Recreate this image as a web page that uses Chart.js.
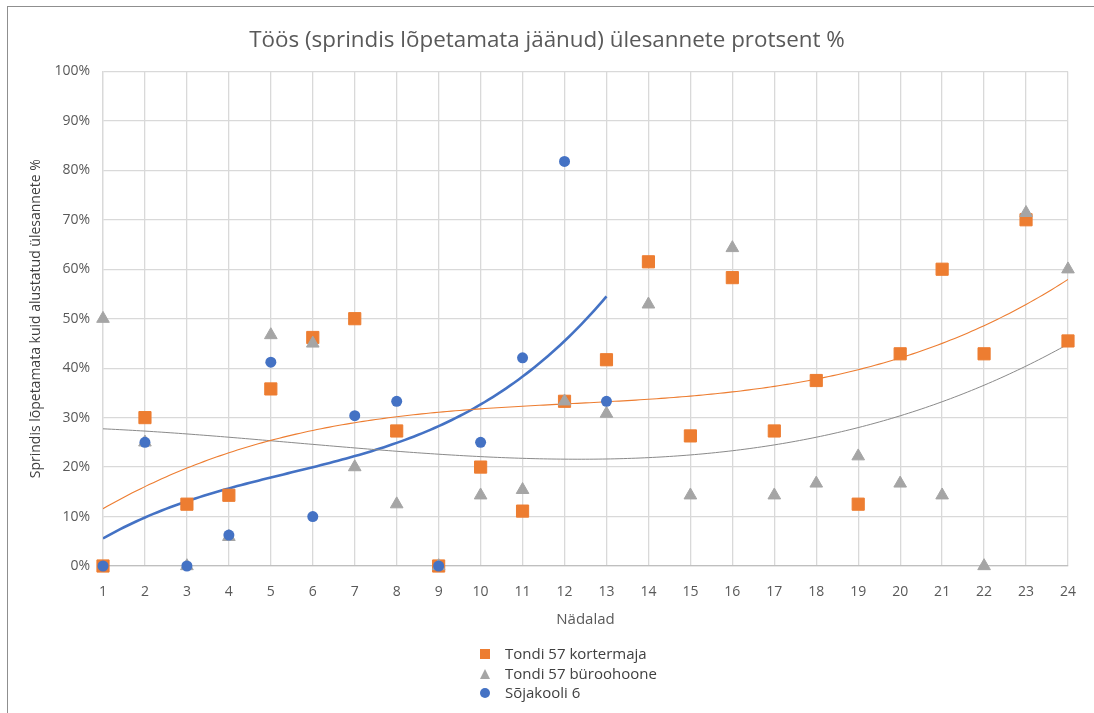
<!DOCTYPE html>
<html>
<head>
<meta charset="utf-8">
<script src="https://cdn.jsdelivr.net/npm/chart.js@4/dist/chart.umd.min.js"></script>
<style>
  html, body { margin: 0; padding: 0; background: #fff; }
  #wrap { position: relative; width: 1094px; height: 713px; overflow: hidden; }
  #frame { position: absolute; left: 7px; top: 6px; width: 1200px; height: 800px; border-top: 1px solid #8f8f8f; border-left: 1px solid #8f8f8f; pointer-events: none; }
  canvas { position: absolute; left: 0; top: 0; }
  #legend { position: absolute; left: 478px; top: 644px; font-family: "Open Sans", sans-serif; font-size: 15px; color: #404040; }
  #legend .row { position: relative; height: 19.5px; line-height: 19.5px; padding-left: 27px; white-space: nowrap; }
  #legend .mk { position: absolute; left: 2px; }
  .sq { top: 5px; width: 10px; height: 10px; background: #ED7D31; }
  .tri { top: 5px; width: 0; height: 0; border-left: 5.5px solid transparent; border-right: 5.5px solid transparent; border-bottom: 10px solid #A5A5A5; left: 1.5px !important; }
  .ci { top: 5px; width: 10px; height: 10px; border-radius: 50%; background: #4472C4; }
</style>
</head>
<body>
<div id="wrap">
  <canvas id="c" width="1094" height="713"></canvas>
  <div id="frame"></div>
  <div id="legend"></div>
</div>
<script>
// ---- Data ----
const weeks = [1,2,3,4,5,6,7,8,9,10,11,12,13,14,15,16,17,18,19,20,21,22,23,24];
const yTicks = [0,10,20,30,40,50,60,70,80,90,100];
const seriesNames = ["Tondi 57 kortermaja", "Tondi 57 büroohoone", "Sõjakooli 6"];
const kortermaja = [0,30,12.5,14.3,35.8,46.2,50,27.3,0,20,11.1,33.3,41.7,61.5,26.3,58.3,27.3,37.5,12.5,42.9,60,42.9,70,45.5];
const buroohoone = [50,25,0,5.9,46.7,45,20,12.5,0,14.3,15.4,33.3,30.8,52.9,14.3,64.3,14.3,16.7,22.2,16.7,14.3,0,71.4,60];
const sojakooliWeeks = [1,2,3,4,5,6,7,8,9,10,11,12,13];
const sojakooli = [0,25,0,6.25,41.2,10,30.4,33.3,0,25,42.1,81.8,33.3];

// ---- Polynomial (order 3) trendline, least squares ----
function polyFit(xs, ys, order) {
  const n = order + 1;
  const A = Array.from({length: n}, () => new Array(n + 1).fill(0));
  for (let k = 0; k < xs.length; k++) {
    for (let i = 0; i < n; i++) {
      for (let j = 0; j < n; j++) A[i][j] += Math.pow(xs[k], i + j);
      A[i][n] += ys[k] * Math.pow(xs[k], i);
    }
  }
  for (let i = 0; i < n; i++) {
    let p = i;
    for (let r = i + 1; r < n; r++) if (Math.abs(A[r][i]) > Math.abs(A[p][i])) p = r;
    [A[i], A[p]] = [A[p], A[i]];
    for (let r = 0; r < n; r++) {
      if (r === i) continue;
      const f = A[r][i] / A[i][i];
      for (let c = i; c <= n; c++) A[r][c] -= f * A[i][c];
    }
  }
  return A.map((row, i) => row[n] / row[i]);
}
function trendPoints(xs, ys) {
  const c = polyFit(xs, ys, 3);
  const pts = [];
  const x0 = xs[0], x1 = xs[xs.length - 1];
  for (let x = x0; x <= x1 + 1e-9; x += 0.1) {
    pts.push({x: x, y: c[0] + c[1]*x + c[2]*x*x + c[3]*x*x*x});
  }
  return pts;
}
const toPts = (xs, ys) => xs.map((x, i) => ({x: x, y: ys[i]}));

const C_OR = '#ED7D31', C_GR = '#A5A5A5', C_BL = '#4472C4';
const tickFont = {family: "'Open Sans', sans-serif", size: 14};

new Chart(document.getElementById('c'), {
  type: 'scatter',
  data: {
    datasets: [
      {label: seriesNames[0], data: toPts(weeks, kortermaja), pointStyle: 'rect', pointRadius: 8.6, pointHoverRadius: 8.6,
       backgroundColor: C_OR, borderColor: C_OR, borderWidth: 1, order: 3, clip: false},
      {label: seriesNames[1], data: toPts(weeks, buroohoone), pointStyle: 'triangle', pointRadius: 7.3, pointHoverRadius: 7.3,
       backgroundColor: C_GR, borderColor: C_GR, borderWidth: 1, order: 2, clip: false},
      {label: seriesNames[2], data: toPts(sojakooliWeeks, sojakooli), pointStyle: 'circle', pointRadius: 5.5, pointHoverRadius: 5.5,
       backgroundColor: C_BL, borderColor: C_BL, borderWidth: 0, order: 1, clip: false},
      {label: 'trend1', type: 'line', data: trendPoints(weeks, kortermaja), borderColor: C_OR, borderWidth: 1.1,
       pointRadius: 0, fill: false, tension: 0, order: 10},
      {label: 'trend2', type: 'line', data: trendPoints(weeks, buroohoone), borderColor: '#8a8a8a', borderWidth: 1,
       pointRadius: 0, fill: false, tension: 0, order: 10},
      {label: 'trend3', type: 'line', data: trendPoints(sojakooliWeeks, sojakooli), borderColor: C_BL, borderWidth: 2.6,
       pointRadius: 0, fill: false, tension: 0, order: 10}
    ]
  },
  options: {
    responsive: false,
    animation: false,
    layout: {padding: {left: 0, right: 0, top: 0, bottom: 84}},
    plugins: {
      legend: {display: false},
      tooltip: {enabled: false},
      title: {display: true, text: 'Töös (sprindis lõpetamata jäänud) ülesannete protsent %',
              color: '#595959', font: {family: "'Open Sans', sans-serif", size: 22.4, weight: 'normal'},
              padding: {top: 27, bottom: 17.5}}
    },
    scales: {
      x: {
        type: 'linear', min: 1, max: 24,
        ticks: {stepSize: 1, color: '#595959', font: tickFont, padding: 18, autoSkip: false},
        grid: {color: '#D9D9D9', lineWidth: 1.3, drawTicks: false},
        border: {color: '#BFBFBF', width: 1.3},
        title: {display: true, text: 'Nädalad', color: '#595959', font: {family: "'Open Sans', sans-serif", size: 15}, padding: {top: 0, bottom: 0}},
        afterFit: s => { s.height = 63; }
      },
      y: {
        min: 0, max: 100,
        afterBuildTicks: s => { s.ticks = yTicks.map(v => ({value: v})); },
        ticks: {color: '#595959', font: tickFont, padding: 13, callback: v => v + '%'},
        grid: {color: '#D9D9D9', lineWidth: 1.3, drawTicks: false},
        border: {color: '#D9D9D9', width: 1.3},
        title: {display: true, text: 'Sprindis lõpetamata kuid alustatud ülesannete %', color: '#404040',
                font: {family: "'Open Sans', sans-serif", size: 14}, padding: {top: 28, bottom: 0}},
        afterFit: s => { s.width = 103; }
      },
      yRight: {
        position: 'right', min: 0, max: 100,
        ticks: {display: false},
        grid: {display: false, drawTicks: false},
        border: {display: false},
        afterFit: s => { s.width = 20; }
      }
    }
  }
});

// HTML legend built from series names
const mk = ['sq', 'tri', 'ci'];
const lg = document.getElementById('legend');
seriesNames.forEach((n, i) => {
  const r = document.createElement('div'); r.className = 'row';
  const m = document.createElement('span'); m.className = 'mk ' + mk[i];
  r.appendChild(m); r.appendChild(document.createTextNode(n)); lg.appendChild(r);
});
</script>
</body>
</html>
